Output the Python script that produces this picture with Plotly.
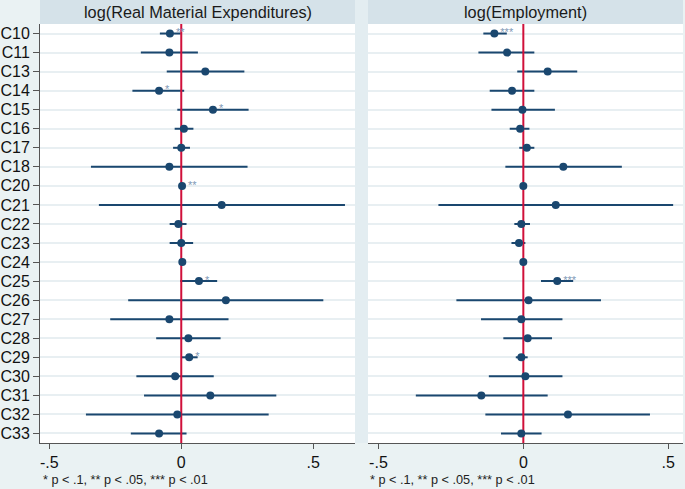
import plotly.graph_objects as go

W, H = 685, 489

categories = ["C10", "C11", "C13", "C14", "C15", "C16", "C17", "C18", "C20", "C21", "C22",
              "C23", "C24", "C25", "C26", "C27", "C28", "C29", "C30", "C31", "C32", "C33"]

# log(Real Material Expenditures)
mat_coef = [-0.043, -0.045, 0.091, -0.084, 0.120, 0.010, 0.000, -0.045, 0.003, 0.153, -0.011,
            0.000, 0.004, 0.067, 0.169, -0.045, 0.027, 0.030, -0.023, 0.110, -0.015, -0.084]
mat_lo = [-0.081, -0.153, -0.055, -0.185, -0.015, -0.025, -0.031, -0.342, -0.003, -0.312, -0.044,
          -0.044, -0.002, -0.004, -0.201, -0.269, -0.095, 0.001, -0.170, -0.141, -0.361, -0.191]
mat_hi = [-0.002, 0.063, 0.239, 0.011, 0.255, 0.046, 0.033, 0.251, 0.009, 0.620, 0.020,
          0.045, 0.010, 0.136, 0.538, 0.179, 0.149, 0.062, 0.123, 0.360, 0.331, 0.020]
mat_stars = ["**", "", "", "*", "*", "", "", "", "**", "", "",
             "", "", "*", "", "", "", "*", "", "", "", ""]

# log(Employment)
emp_coef = [-0.100, -0.056, 0.084, -0.039, -0.003, -0.011, 0.012, 0.138, 0.000, 0.112, -0.007,
            -0.015, 0.000, 0.117, 0.018, -0.007, 0.015, -0.007, 0.007, -0.145, 0.154, -0.007]
emp_lo = [-0.138, -0.155, -0.021, -0.116, -0.110, -0.047, -0.014, -0.062, -0.004, -0.293, -0.031,
          -0.041, -0.004, 0.061, -0.231, -0.146, -0.069, -0.026, -0.119, -0.371, -0.131, -0.077]
emp_hi = [-0.057, 0.038, 0.186, 0.038, 0.109, 0.021, 0.038, 0.340, 0.004, 0.517, 0.023,
          0.007, 0.004, 0.172, 0.268, 0.135, 0.099, 0.015, 0.135, 0.084, 0.437, 0.063]
emp_stars = ["***", "", "", "", "", "", "", "", "", "", "",
             "", "", "***", "", "", "", "", "", "", "", ""]

panel_titles = ["log(Real Material Expenditures)", "log(Employment)"]
x_ticks = [-0.5, 0, 0.5]
x_ticktext = ["-.5", "0", ".5"]
note = "* p < .1, ** p < .05, *** p < .01"

NAVY = "#1a476f"
RED = "#d0103a"
BG = "#eaf2f3"
HEADER = "#d5e2e9"
GAP = "#e3edf1"
GRID = "#e8eff2"
STAR = "#7f99b6"
AXIS = "#555555"
FONT = "Liberation Sans, Arial, sans-serif"

ypos = list(range(len(categories)))

fig = go.Figure()

def add_panel(coef, lo, hi, stars, xa, ya):
    xs, ys = [], []
    for y, a, b in zip(ypos, lo, hi):
        xs += [a, b, None]
        ys += [y, y, None]
    fig.add_trace(go.Scatter(x=xs, y=ys, mode="lines", line=dict(color=NAVY, width=2),
                             xaxis=xa, yaxis=ya, showlegend=False, hoverinfo="skip"))
    fig.add_trace(go.Scatter(x=[0, 0], y=[-0.5, len(categories) - 0.5], mode="lines",
                             line=dict(color=RED, width=2), xaxis=xa, yaxis=ya,
                             showlegend=False, hoverinfo="skip"))
    fig.add_trace(go.Scatter(x=coef, y=ypos, mode="markers+text", text=stars,
                             textposition="middle right",
                             textfont=dict(color=STAR, size=11, family=FONT),
                             marker=dict(color=NAVY, size=8, symbol="circle"),
                             xaxis=xa, yaxis=ya, showlegend=False))

add_panel(mat_coef, mat_lo, mat_hi, mat_stars, "x", "y")
add_panel(emp_coef, emp_lo, emp_hi, emp_stars, "x2", "y2")

def px_x(p):
    return p / W

def px_y(p):
    return 1 - p / H

ydom = [px_y(443), px_y(24)]
xdom1 = [px_x(40), px_x(355)]
xdom2 = [px_x(368), px_x(683)]

xcommon = dict(tickvals=x_ticks, ticktext=x_ticktext, ticks="outside", ticklen=5,
               tickcolor=AXIS, showline=True, linecolor=AXIS, linewidth=1,
               showgrid=False, zeroline=False, tickfont=dict(size=16, color="#111", family=FONT))
ycommon = dict(range=[len(categories) - 0.5, -0.5], tickvals=ypos, showgrid=True,
               gridcolor=GRID, gridwidth=2, zeroline=False)

fig.update_layout(
    width=W, height=H,
    margin=dict(l=0, r=0, t=0, b=0),
    paper_bgcolor=BG, plot_bgcolor="white",
    font=dict(family=FONT),
    xaxis=dict(domain=xdom1, range=[-0.535, 0.658], anchor="y", **xcommon),
    xaxis2=dict(domain=xdom2, range=[-0.536, 0.551], anchor="y2", **xcommon),
    yaxis=dict(domain=ydom, anchor="x", ticktext=categories, ticks="outside", ticklen=6,
               tickcolor=AXIS, showline=True, linecolor=AXIS, linewidth=1,
               tickfont=dict(size=16, color="#111", family=FONT), **ycommon),
    yaxis2=dict(domain=ydom, anchor="x2", showticklabels=False, ticks="", showline=False,
                **ycommon),
    shapes=[
        dict(type="rect", xref="paper", yref="paper", x0=xdom1[0], x1=xdom1[1],
             y0=px_y(24), y1=1, fillcolor=HEADER, line=dict(width=0), layer="below"),
        dict(type="rect", xref="paper", yref="paper", x0=xdom2[0], x1=xdom2[1],
             y0=px_y(24), y1=1, fillcolor=HEADER, line=dict(width=0), layer="below"),
        dict(type="rect", xref="paper", yref="paper", x0=px_x(355), x1=px_x(368),
             y0=px_y(443), y1=1, fillcolor=GAP, line=dict(width=0), layer="below"),
    ],
    annotations=[
        dict(text=panel_titles[0], xref="paper", yref="paper", x=sum(xdom1) / 2, y=px_y(12),
             xanchor="center", yanchor="middle", showarrow=False,
             font=dict(size=16.3, color="#1a1a1a", family=FONT)),
        dict(text=panel_titles[1], xref="paper", yref="paper", x=sum(xdom2) / 2, y=px_y(12),
             xanchor="center", yanchor="middle", showarrow=False,
             font=dict(size=16.3, color="#1a1a1a", family=FONT)),
        dict(text=note, xref="paper", yref="paper", x=px_x(41), y=px_y(480),
             xanchor="left", yanchor="middle", showarrow=False,
             font=dict(size=12.7, color="#222", family=FONT)),
        dict(text=note, xref="paper", yref="paper", x=px_x(368), y=px_y(480),
             xanchor="left", yanchor="middle", showarrow=False,
             font=dict(size=12.7, color="#222", family=FONT)),
    ],
)

fig.write_html("out.html", config={"displayModeBar": False},
               post_script="document.body.style.margin='0';document.body.style.padding='0';")
